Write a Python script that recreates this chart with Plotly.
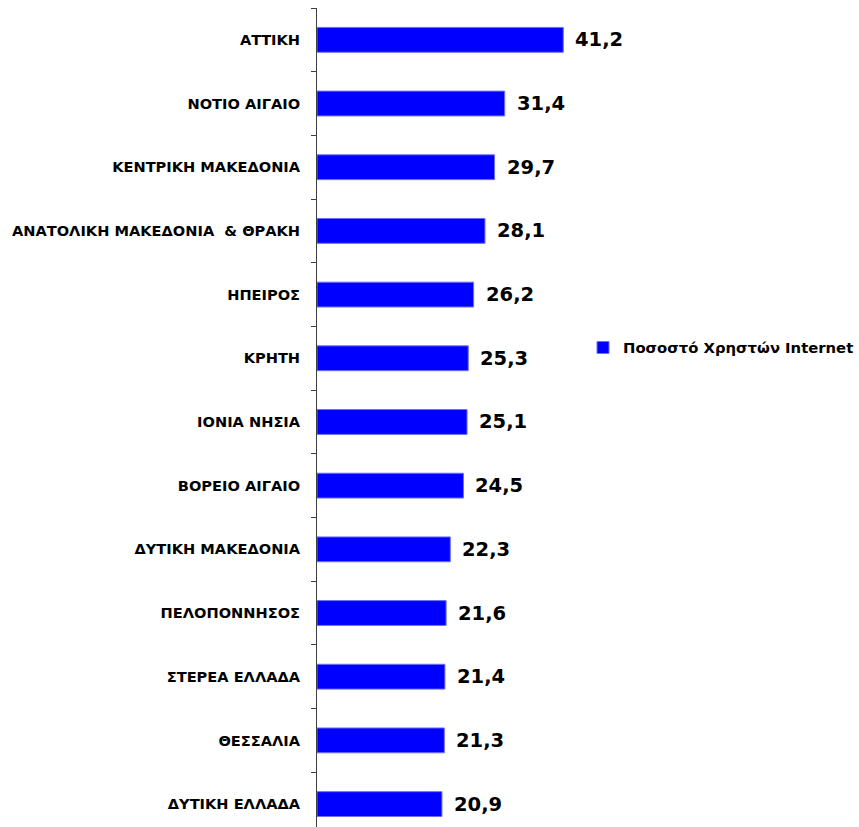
import plotly.graph_objects as go

# Regions, top to bottom, and share of internet users (%)
regions = [
    "ΑΤΤΙΚΗ",
    "ΝΟΤΙΟ ΑΙΓΑΙΟ",
    "ΚΕΝΤΡΙΚΗ ΜΑΚΕΔΟΝΙΑ",
    "ΑΝΑΤΟΛΙΚΗ ΜΑΚΕΔΟΝΙΑ  & ΘΡΑΚΗ",
    "ΗΠΕΙΡΟΣ",
    "ΚΡΗΤΗ",
    "ΙΟΝΙΑ ΝΗΣΙΑ",
    "ΒΟΡΕΙΟ ΑΙΓΑΙΟ",
    "ΔΥΤΙΚΗ ΜΑΚΕΔΟΝΙΑ",
    "ΠΕΛΟΠΟΝΝΗΣΟΣ",
    "ΣΤΕΡΕΑ ΕΛΛΑΔΑ",
    "ΘΕΣΣΑΛΙΑ",
    "ΔΥΤΙΚΗ ΕΛΛΑΔΑ",
]
users_pct = [41.2, 31.4, 29.7, 28.1, 26.2, 25.3, 25.1, 24.5, 22.3, 21.6, 21.4, 21.3, 20.9]
series_name = "Ποσοστό Χρηστών Internet"

BLUE = "#0000FF"

fig = go.Figure()
fig.add_trace(go.Bar(
    x=users_pct,
    y=regions,
    orientation="h",
    name=series_name,
    marker=dict(color=BLUE, line=dict(color="#6f6fff", width=1)),
    width=0.39,
    showlegend=True,
))

# value labels to the right of each bar
for r, v in zip(regions, users_pct):
    fig.add_annotation(
        x=v, y=r, xref="x", yref="y",
        text=f"{v:.1f}".replace(".", ","),
        showarrow=False, xanchor="left", yanchor="middle", xshift=10,
        font=dict(family="DejaVu Sans", size=19.5, color="black", weight="bold"),
    )

fig.update_layout(
    width=859, height=827,
    margin=dict(l=317, r=273, t=8, b=0),
    plot_bgcolor="white", paper_bgcolor="white",
    xaxis=dict(range=[0, 45], visible=False, fixedrange=True),
    yaxis=dict(
        type="category",
        categoryorder="array", categoryarray=regions,
        range=[12.36, -0.5],
        showline=True, linecolor="#404040", linewidth=1,
        ticks="outside", tickson="boundaries", ticklen=5, tickcolor="#404040",
        showgrid=False, zeroline=False,
        tickfont=dict(family="DejaVu Sans", size=14.6, color="black", weight="bold"),
        ticklabelstandoff=13,
    ),
    legend=dict(
        x=0.99, y=0.585, xanchor="left", yanchor="middle",
        font=dict(family="DejaVu Sans", size=14.8, color="black", weight="bold"),
        bgcolor="rgba(0,0,0,0)", itemwidth=30,
    ),
)

fig.write_html("out.html")
